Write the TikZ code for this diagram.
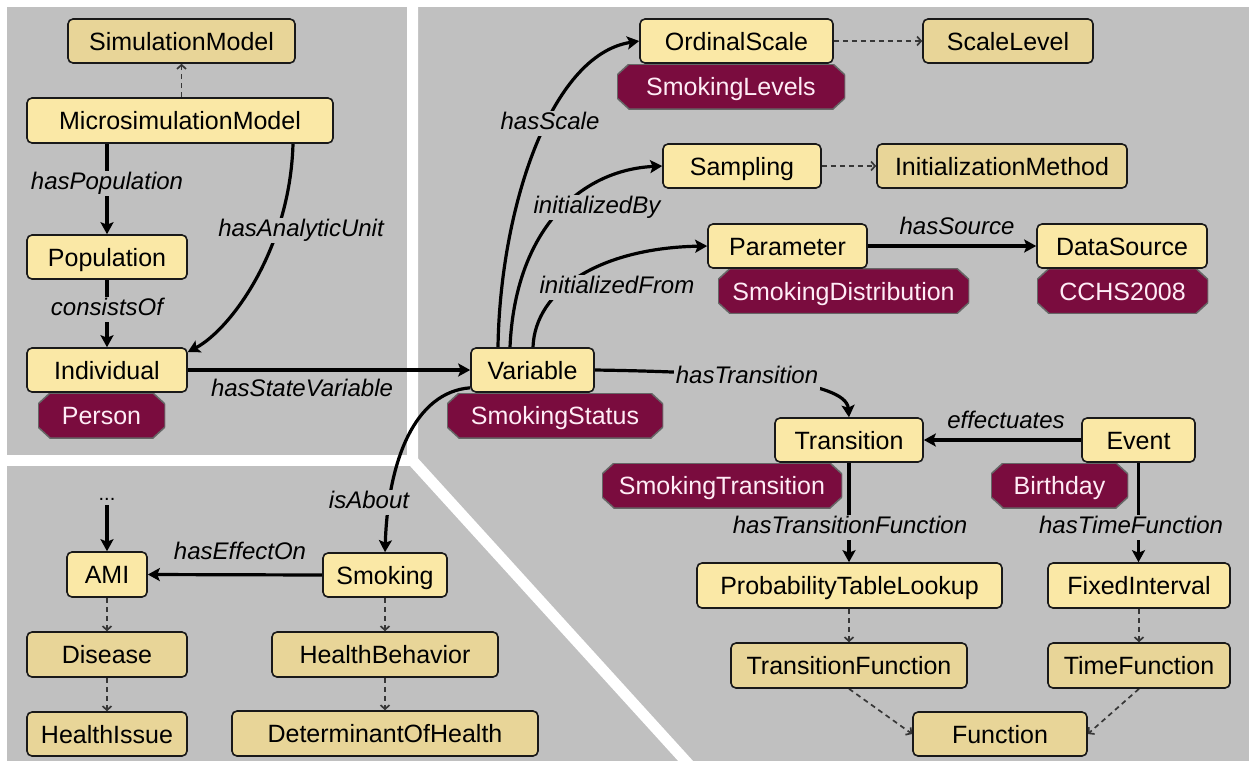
\documentclass[tikz,border=0pt]{standalone}
\usepackage{fontspec}
\setmainfont{Liberation Sans}
\usetikzlibrary{arrows.meta}
\definecolor{panel}{RGB}{192,192,192}
\definecolor{clsyellow}{RGB}{250,232,166}
\definecolor{clstan}{RGB}{232,213,152}
\definecolor{maroon}{RGB}{122,12,62}
\definecolor{edgegray}{RGB}{55,55,55}
\definecolor{tagtext}{RGB}{255,236,246}
\pgfdeclarelayer{bg}
\pgfdeclarelayer{edges}
\pgfsetlayers{bg,edges,main}
\begin{document}
\begin{tikzpicture}[x=1pt,y=-1pt,
  cls/.style={rectangle, rounded corners=5pt, draw=black!90, line width=1.6pt, fill=clsyellow,
    inner sep=0pt, minimum height=44pt, font=\fontsize{25}{30}\selectfont,
    text height=22pt, text depth=4pt},
  supcls/.style={cls, fill=clstan},
  tag/.style={rectangle, inner sep=0pt, minimum height=45pt, font=\fontsize{25}{30}\selectfont,
    text=tagtext, text height=22pt, text depth=4pt,
    path picture={
      \filldraw[fill=maroon, draw=black!60, line width=1.5pt]
        ([xshift=12pt]path picture bounding box.north west) --
        ([xshift=-12pt]path picture bounding box.north east) --
        ([yshift=-11pt]path picture bounding box.north east) --
        ([yshift=11pt]path picture bounding box.south east) --
        ([xshift=-12pt]path picture bounding box.south east) --
        ([xshift=12pt]path picture bounding box.south west) --
        ([yshift=11pt]path picture bounding box.south west) --
        ([yshift=-11pt]path picture bounding box.north west) -- cycle;}},
  lbl/.style={fill=panel, inner sep=1.5pt, font=\fontsize{24}{28}\selectfont\itshape,
    text height=17pt, text depth=5pt},
  rel/.style={line width=3.2pt, -{Stealth[length=12pt,width=13pt,inset=2.5pt]}},
  isa/.style={draw=edgegray, line width=1.7pt, dash pattern=on 5pt off 4pt,
    -{Straight Barb[length=4pt,width=9pt]}}
]
\useasboundingbox (0,0) rectangle (1249,761);
\begin{pgfonlayer}{bg}
  \fill[white] (0,0) rectangle (1249,761);
  \fill[panel] (7,7) rectangle (1249,761);
  \draw[white, line width=11pt] (412.5,0) -- (412.5,460.5) -- (692,768);
  \draw[white, line width=11pt] (0,460.5) -- (412.5,460.5);
\end{pgfonlayer}

% maroon instance tags
\node[tag, minimum width=127pt] (Person) at (101.5,415.5) {Person};
\node[tag, minimum width=216pt] (SmokingStatus) at (555,415.5) {SmokingStatus};
\node[tag, minimum width=228pt] (SmokingLevels) at (731,86.5) {SmokingLevels};
\node[tag, minimum width=251pt] (SmokingDistribution) at (843.5,291) {SmokingDistribution};
\node[tag, minimum width=171pt] (CCHS) at (1122.5,291) {CCHS2008};
\node[tag, minimum width=240pt] (SmokingTransition) at (722,485.5) {SmokingTransition};
\node[tag, minimum width=137pt] (Birthday) at (1059.5,485.5) {Birthday};

% class nodes
\node[supcls, minimum width=227pt] (SimModel) at (181.5,41) {SimulationModel};
\node[cls, minimum width=306pt, minimum height=45pt] (MicroModel) at (180,120.5) {MicrosimulationModel};
\node[cls, minimum width=160pt] (Population) at (107,257) {Population};
\node[cls, minimum width=160pt] (Individual) at (107,370) {Individual};
\node[cls, minimum width=123pt] (Variable) at (532.5,370) {Variable};
\node[cls, minimum width=193pt] (OrdinalScale) at (736.5,41) {OrdinalScale};
\node[supcls, minimum width=170pt] (ScaleLevel) at (1008,41) {ScaleLevel};
\node[cls, minimum width=158pt] (Sampling) at (742,166) {Sampling};
\node[supcls, minimum width=250pt] (InitMethod) at (1002,166) {InitializationMethod};
\node[cls, minimum width=159pt] (Parameter) at (787.5,246) {Parameter};
\node[cls, minimum width=170pt] (DataSource) at (1122,246) {DataSource};
\node[cls, minimum width=148pt] (Transition) at (849,440) {Transition};
\node[cls, minimum width=113pt] (Event) at (1138.5,440) {Event};
\node[cls, minimum width=305pt, minimum height=45pt] (PTL) at (849.5,585.5) {ProbabilityTableLookup};
\node[cls, minimum width=182pt, minimum height=45pt] (FixedInterval) at (1139,585.5) {FixedInterval};
\node[supcls, minimum width=236pt, minimum height=45pt] (TransFunc) at (849,665.5) {TransitionFunction};
\node[supcls, minimum width=182pt, minimum height=45pt] (TimeFunc) at (1139,665.5) {TimeFunction};
\node[supcls, minimum width=174pt] (Function) at (1000,734) {Function};
\node[cls, minimum width=80pt, minimum height=45pt] (AMI) at (107,574.5) {AMI};
\node[cls, minimum width=124pt] (Smoking) at (385,575) {Smoking};
\node[supcls, minimum width=160pt, minimum height=45pt] (Disease) at (107,654.5) {Disease};
\node[supcls, minimum width=160pt] (HealthIssue) at (107,734) {HealthIssue};
\node[supcls, minimum width=226pt, minimum height=45pt] (HealthBehavior) at (385,654.5) {HealthBehavior};
\node[supcls, minimum width=306pt, minimum height=45pt] (DetHealth) at (385,733.5) {DeterminantOfHealth};
\node[inner sep=0pt, anchor=base, font=\fontsize{20}{24}\selectfont] (dots) at (107,500) {...};

\begin{pgfonlayer}{edges}
  % subclass (dashed) links
  \draw[isa] (MicroModel.north -| SimModel.south) -- (SimModel.south);
  \draw[isa] (OrdinalScale.east) -- (ScaleLevel.west);
  \draw[isa] (Sampling.east) -- (InitMethod.west);
  \draw[isa] (PTL.south -| TransFunc.north) -- (TransFunc.north);
  \draw[isa] (FixedInterval.south) -- (TimeFunc.north);
  \draw[isa] (TransFunc.south) -- (Function.west);
  \draw[isa] (TimeFunc.south) -- (Function.east);
  \draw[isa] (AMI.south) -- (Disease.north);
  \draw[isa] (Disease.south) -- (HealthIssue.north);
  \draw[isa] (Smoking.south) -- (HealthBehavior.north);
  \draw[isa] (HealthBehavior.south) -- (DetHealth.north);

  % property links
  \draw[rel] (MicroModel.south -| Population.north) -- (Population.north);
  \draw[rel] (Population.south) -- (Individual.north);
  \draw[rel] ([xshift=113pt]MicroModel.south) .. controls (290,250) and (230,330) .. ([yshift=18pt]Individual.east);
  \draw[rel] (Individual.east) -- (Variable.west);
  \draw[rel] ([xshift=-34.5pt]Variable.north) .. controls (500,210) and (550,55) .. (OrdinalScale.west);
  \draw[rel] ([xshift=-22.5pt]Variable.north) .. controls (515,230) and (580,170) .. (Sampling.west);
  \draw[rel] ([xshift=0.5pt]Variable.north) .. controls (535,290) and (600,248) .. (Parameter.west);
  \draw[rel] (Parameter.east) -- (DataSource.west);
  \draw[rel] (Variable.east) .. controls (730,372) and (846,380) .. (Transition.north);
  \draw[rel] (Event.west) -- (Transition.east);
  \draw[rel] (Transition.south) -- (Transition.south |- PTL.north);
  \draw[rel] (Event.south) -- (Event.south |- FixedInterval.north);
  \draw[rel] ([yshift=5pt]Variable.south west) .. controls (415,392) and (388,460) .. (Smoking.north);
  \draw[rel] (Smoking.west) -- (AMI.east);
  \draw[rel, shorten <=5pt] (dots.south) -- (AMI.north);

  % labels
  \node[lbl] (lPop) at (107,183) {hasPopulation};
  \node[lbl] (lCons) at (107,309) {consistsOf};
  \node[lbl] (lAU) at (301,230) {hasAnalyticUnit};
  \node[lbl] (lSV) at (302,390) {hasStateVariable};
  \node[lbl] (lScale) at (550,123) {hasScale};
  \node[lbl] (lInitBy) at (597,207) {initializedBy};
  \node[lbl] (lInitFrom) at (617,287) {initializedFrom};
  \node[lbl] (lSource) at (957,228) {hasSource};
  \node[lbl] (lTrans) at (747,377) {hasTransition};
  \node[lbl] (lEff) at (1006,422) {effectuates};
  \node[lbl] (lTF) at (850,527) {hasTransitionFunction};
  \node[lbl] (lTimeF) at (1131,527) {hasTimeFunction};
  \node[lbl] (lAbout) at (369,502) {isAbout};
  \node[lbl] (lEffOn) at (240,553) {hasEffectOn};
\end{pgfonlayer}
\end{tikzpicture}
\end{document}
